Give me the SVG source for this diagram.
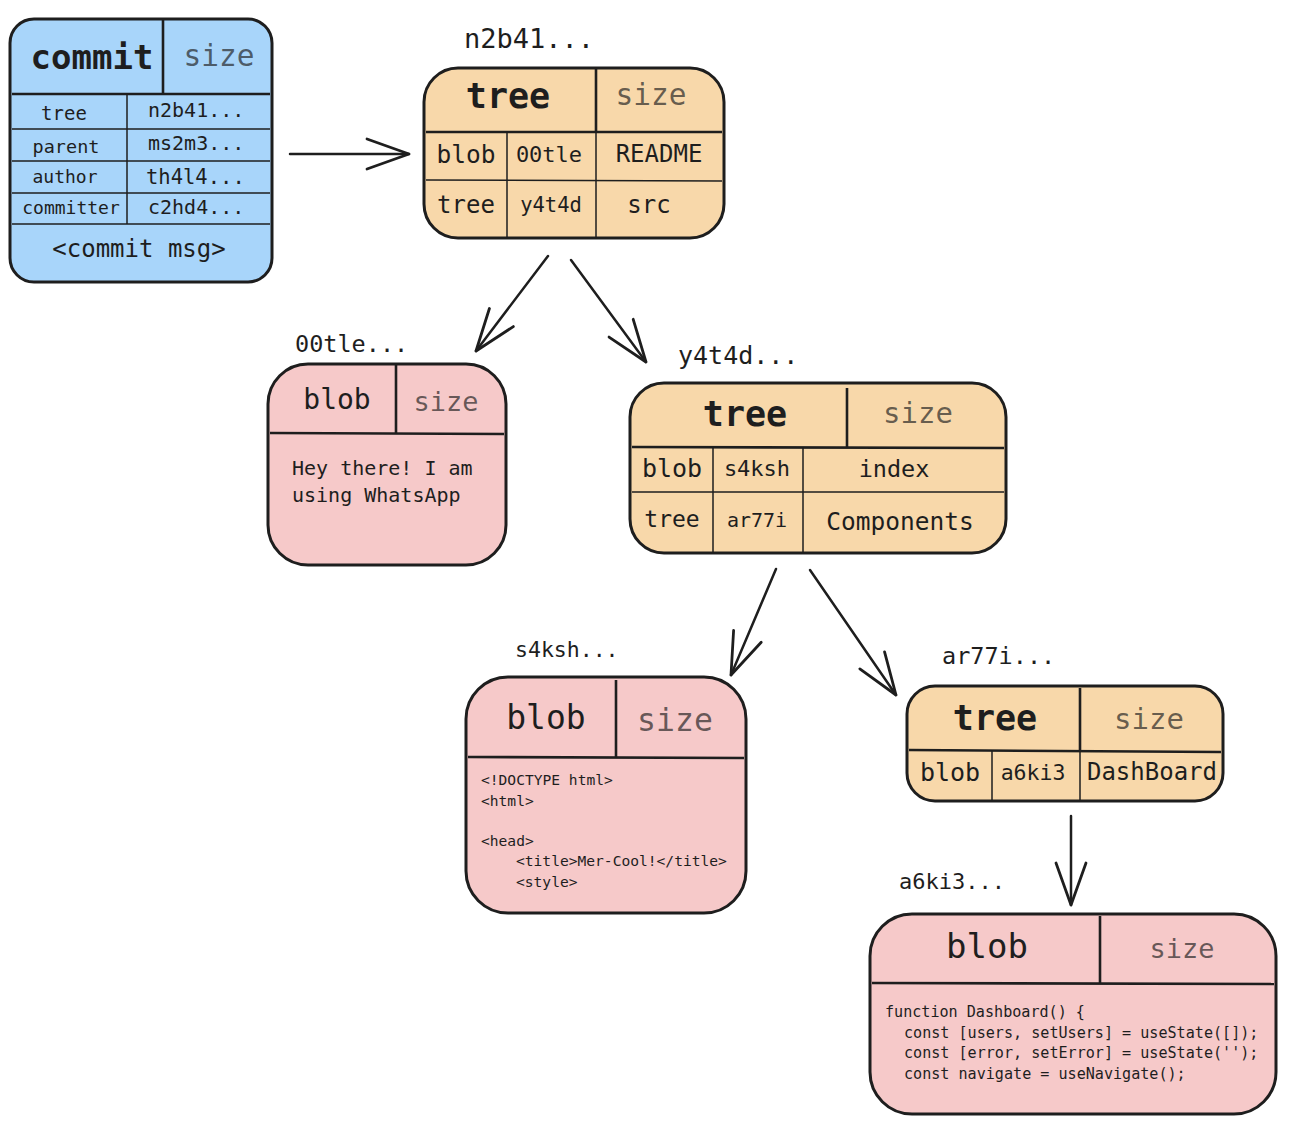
<svg xmlns="http://www.w3.org/2000/svg" width="1294" height="1132" viewBox="0 0 1294 1132">
<defs>
<style>
text{font-family:"DejaVu Sans Mono","Liberation Mono",monospace;fill:#1e1e1e;dominant-baseline:central}
.c{text-anchor:middle}
.sz{fill-opacity:0.68}
.box{stroke:#1e1e1e;stroke-width:3}
.blue{fill:#a8d5fa}
.orange{fill:#f8d8aa}
.pink{fill:#f6c9c9}
.hd{stroke:#1e1e1e;stroke-width:2.6;fill:none}
.ln{stroke:#1e1e1e;stroke-width:1.5;fill:none}
.conn{stroke:#1e1e1e;stroke-width:2.5;fill:none;stroke-linecap:round;marker-end:url(#ah)}
</style>
<marker id="ah" markerUnits="userSpaceOnUse" markerWidth="60" markerHeight="60" viewBox="-50 -25 60 50" refX="0" refY="0" orient="auto" overflow="visible">
<path d="M -42 -15 L 0 0 L -42 15" fill="none" stroke="#1e1e1e" stroke-width="2.8" stroke-linecap="round" stroke-linejoin="round"/>
</marker>
</defs>

<g id="connectors">
<line class="conn" x1="290" y1="154" x2="409" y2="154"/>
<line class="conn" x1="548" y1="256" x2="476" y2="351"/>
<line class="conn" x1="571" y1="260" x2="646" y2="362"/>
<line class="conn" x1="776" y1="569" x2="731" y2="675"/>
<line class="conn" x1="810" y1="570" x2="896" y2="695"/>
<line class="conn" x1="1071" y1="816" x2="1071" y2="905"/>
</g>

<g id="commit">
<rect class="box blue" x="10" y="19" width="262" height="263" rx="24"/>
<line class="hd" x1="12" y1="94" x2="270" y2="94"/>
<line class="hd" x1="163" y1="20" x2="163" y2="94"/>
<line class="ln" x1="127" y1="94" x2="127" y2="224"/>
<line class="ln" x1="12" y1="129" x2="270" y2="129"/>
<line class="ln" x1="12" y1="161" x2="270" y2="161"/>
<line class="ln" x1="12" y1="193" x2="270" y2="193"/>
<line class="ln" x1="12" y1="224" x2="270" y2="224"/>
<text class="c" x="92" y="57" font-size="34" font-weight="bold">commit</text>
<text class="c sz" x="219" y="56" font-size="29.5">size</text>
<text class="c" x="64" y="113" font-size="19">tree</text>
<text x="148" y="110" font-size="20">n2b41...</text>
<text class="c" x="66" y="146" font-size="18.5">parent</text>
<text x="148" y="143" font-size="20">ms2m3...</text>
<text class="c" x="65" y="176" font-size="18">author</text>
<text x="146" y="177" font-size="20.5">th4l4...</text>
<text class="c" x="71" y="207" font-size="18">committer</text>
<text x="148" y="207" font-size="20">c2hd4...</text>
<text class="c" x="139" y="249" font-size="24">&lt;commit msg&gt;</text>
</g>

<g id="tree-n2b41">
<text x="464" y="38" font-size="27">n2b41...</text>
<rect class="box orange" x="424" y="68" width="300" height="170" rx="34"/>
<line class="hd" x1="426" y1="132" x2="722" y2="132"/>
<line class="hd" x1="596" y1="69" x2="596" y2="132"/>
<line class="ln" x1="596" y1="132" x2="596" y2="238"/>
<line class="ln" x1="507" y1="132" x2="507" y2="238"/>
<line class="ln" x1="426" y1="180" x2="722" y2="181"/>
<text class="c" x="508" y="96" font-size="35" font-weight="bold">tree</text>
<text class="c sz" x="651" y="95" font-size="29.5">size</text>
<text class="c" x="466" y="154" font-size="24.5">blob</text>
<text class="c" x="549" y="154" font-size="22">00tle</text>
<text class="c" x="659" y="154" font-size="24">README</text>
<text class="c" x="466" y="205" font-size="24">tree</text>
<text class="c" x="551" y="205" font-size="20.5">y4t4d</text>
<text class="c" x="649" y="205" font-size="24">src</text>
</g>

<g id="blob-00tle">
<text x="295" y="344" font-size="23.5">00tle...</text>
<rect class="box pink" x="268" y="364" width="238" height="201" rx="40"/>
<line class="hd" x1="270" y1="433" x2="504" y2="434"/>
<line class="hd" x1="396" y1="365" x2="396" y2="433"/>
<text class="c" x="337" y="399" font-size="28">blob</text>
<text class="c sz" x="446" y="401" font-size="27">size</text>
<text x="292" y="468" font-size="20">Hey there! I am</text>
<text x="292" y="495" font-size="20">using WhatsApp</text>
</g>

<g id="tree-y4t4d">
<text x="678" y="355" font-size="25">y4t4d...</text>
<rect class="box orange" x="630" y="383" width="376" height="170" rx="34"/>
<line class="hd" x1="632" y1="447" x2="1004" y2="448"/>
<line class="hd" x1="847" y1="388" x2="847" y2="447"/>
<line class="ln" x1="632" y1="492" x2="1004" y2="492"/>
<line class="ln" x1="713" y1="447" x2="713" y2="553"/>
<line class="ln" x1="803" y1="447" x2="803" y2="553"/>
<text class="c" x="745" y="414" font-size="35" font-weight="bold">tree</text>
<text class="c sz" x="918" y="413" font-size="29">size</text>
<text class="c" x="672" y="468" font-size="25">blob</text>
<text class="c" x="757" y="468" font-size="22">s4ksh</text>
<text class="c" x="894" y="469" font-size="23.5">index</text>
<text class="c" x="672" y="519" font-size="23">tree</text>
<text class="c" x="757" y="520" font-size="20">ar77i</text>
<text class="c" x="900" y="521" font-size="24.5">Components</text>
</g>

<g id="blob-s4ksh">
<text x="515" y="649" font-size="21.5">s4ksh...</text>
<rect class="box pink" x="466" y="677" width="280" height="236" rx="42"/>
<line class="hd" x1="468" y1="757" x2="744" y2="758"/>
<line class="hd" x1="616" y1="680" x2="616" y2="757"/>
<text class="c" x="546" y="717" font-size="33">blob</text>
<text class="c sz" x="675" y="720" font-size="31.5">size</text>
<text x="481" y="779" font-size="14.6">&lt;!DOCTYPE html&gt;</text>
<text x="481" y="800" font-size="14.6">&lt;html&gt;</text>
<text x="481" y="840" font-size="14.6">&lt;head&gt;</text>
<text x="516" y="860" font-size="14.6">&lt;title&gt;Mer-Cool!&lt;/title&gt;</text>
<text x="516" y="881" font-size="14.6">&lt;style&gt;</text>
</g>

<g id="tree-ar77i">
<text x="942" y="656" font-size="23.5">ar77i...</text>
<rect class="box orange" x="907" y="686" width="316" height="115" rx="28"/>
<line class="hd" x1="909" y1="750" x2="1221" y2="752"/>
<line class="hd" x1="1080" y1="688" x2="1080" y2="751"/>
<line class="ln" x1="1080" y1="751" x2="1080" y2="801"/>
<line class="ln" x1="992" y1="751" x2="992" y2="801"/>
<text class="c" x="995" y="718" font-size="35" font-weight="bold">tree</text>
<text class="c sz" x="1149" y="719" font-size="29">size</text>
<text class="c" x="950" y="772" font-size="25">blob</text>
<text class="c" x="1033" y="772" font-size="21.5">a6ki3</text>
<text class="c" x="1152" y="772" font-size="24">DashBoard</text>
</g>

<g id="blob-a6ki3">
<text x="899" y="881" font-size="22">a6ki3...</text>
<rect class="box pink" x="870" y="914" width="406" height="200" rx="42"/>
<line class="hd" x1="872" y1="983" x2="1274" y2="984"/>
<line class="hd" x1="1100" y1="916" x2="1100" y2="983"/>
<text class="c" x="987" y="946" font-size="34">blob</text>
<text class="c sz" x="1182" y="948" font-size="27">size</text>
<text x="885" y="1012" font-size="15.1">function Dashboard() {</text>
<text x="904" y="1033" font-size="15.1">const [users, setUsers] = useState([]);</text>
<text x="904" y="1053" font-size="15.1">const [error, setError] = useState('');</text>
<text x="904" y="1074" font-size="15.1">const navigate = useNavigate();</text>
</g>
</svg>
